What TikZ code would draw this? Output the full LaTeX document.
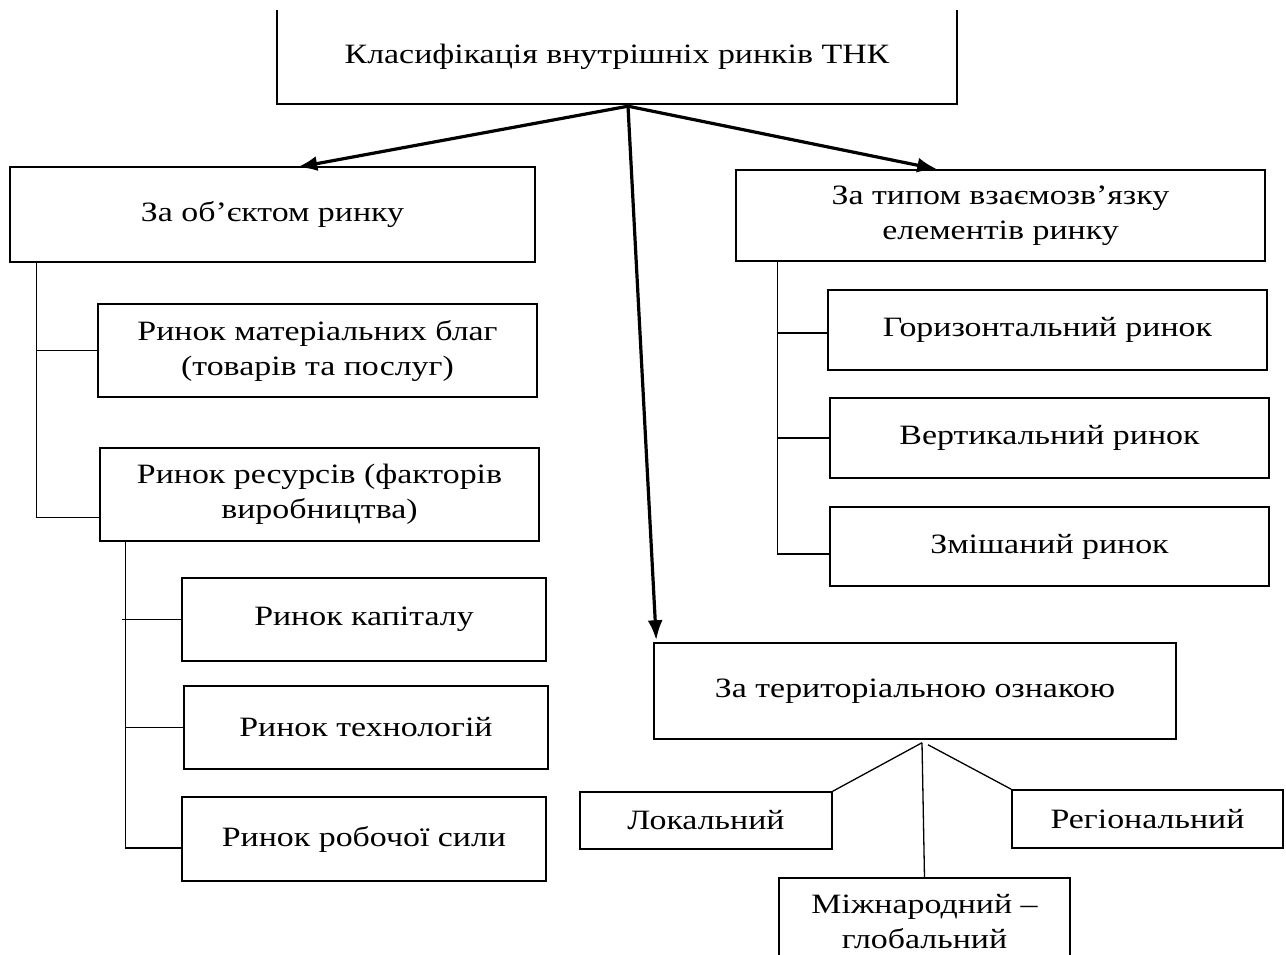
\documentclass[tikz,border=0pt]{standalone}
\usepackage{fontspec}
\setmainfont{Liberation Serif}[FakeStretch=1.21]
\usetikzlibrary{arrows.meta}
\newcommand{\boxnode}[6]{\node[box, minimum width={#4-#2}, minimum height={#5-#3}] (#1) at ({(#2+#4)/2},{(#3+#5)/2}) {#6};}
\newcommand{\opennode}[6]{\node[txt, minimum width={#4-#2}, minimum height={#5-#3}] (#1) at ({(#2+#4)/2},{(#3+#5)/2}) {#6};}
\begin{document}
\begin{tikzpicture}[x=1pt,y=-1pt,
  txt/.style={rectangle, inner sep=0pt, align=center, font=\fontsize{28}{35}\selectfont},
  box/.style={txt, draw, line width=1.5pt},
  edge/.style={line width=1.5pt},
  ln/.style={line width=1.3pt},
  arr/.style={line width=3.2pt, -{Latex[length=20pt,width=15pt]}}]
\useasboundingbox (0,0) rectangle (1286,955);
\fill[white] (0,0) rectangle (1286,955);
% top box (top edge outside picture)
\opennode{top}{277}{10}{957}{104}{Класифікація внутрішніх ринків ТНК}
\draw[edge] (top.north west) -- (top.south west) -- (top.south east) -- (top.north east);
% left branch
\boxnode{obj}{10}{167}{535}{262}{За об’єктом ринку}
\boxnode{mat}{98}{304}{537}{397}{Ринок матеріальних благ\\(товарів та послуг)}
\boxnode{res}{100}{448}{539}{541}{Ринок ресурсів (факторів\\виробництва)}
\boxnode{cap}{182}{578}{546}{661}{Ринок капіталу}
\boxnode{tech}{184}{686}{548}{769}{Ринок технологій}
\boxnode{lab}{182}{797}{546}{881}{Ринок робочої сили}
% right branch
\boxnode{typ}{736}{170}{1265}{261}{За типом взаємозв’язку\\елементів ринку}
\boxnode{hor}{828}{290}{1267}{370}{Горизонтальний ринок}
\boxnode{ver}{830}{398}{1269}{478}{Вертикальний ринок}
\boxnode{mix}{830}{507}{1269}{586}{Змішаний ринок}
% territorial branch
\boxnode{terr}{654}{643}{1176}{739}{За територіальною ознакою}
\boxnode{loc}{580}{792}{832}{849}{Локальний}
\boxnode{reg}{1012}{790}{1283}{848}{Регіональний}
\opennode{mizh}{779}{878}{1070}{966}{Міжнародний –\\глобальний}
\draw[edge] (mizh.south west) -- (mizh.north west) -- (mizh.north east) -- (mizh.south east);
% arrows from the title
\coordinate (o) at ([shift={(11,2)}]top.south);
\draw[arr] (o) -- ([shift={(288,1)}]obj.north west);
\draw[arr] (o) -- ([shift={(202,0)}]typ.north west);
\draw[arr] (o) -- ([shift={(3,-2)}]terr.north west);
% left brackets
\coordinate (b1) at ([shift={(27,0)}]obj.south west);
\draw[ln] (b1) |- (mat.west);
\draw[ln] (b1) |- ([shift={(0,23)}]res.west);
\coordinate (b2) at ([shift={(26,0)}]res.south west);
\draw[ln] (b2) |- ([shift={(0,9)}]lab.west);
\draw[ln] ([shift={(-3,0)}]b2 |- cap.west) -- (cap.west);
\draw[ln] (b2 |- tech.west) -- (tech.west);
% right bracket
\coordinate (b3) at ([shift={(42,0)}]typ.south west);
\draw[ln] (b3) |- ([shift={(0,7.5)}]mix.west);
\draw[ln] (b3 |- ver.west) -- (ver.west);
\draw[ln] ([shift={(0,3)}]hor.west) -- ++(-50,0);
% territorial lines
\coordinate (tb) at ([shift={(7,3)}]terr.south);
\draw[ln] (tb) -- (loc.north east);
\draw[ln] ([shift={(6,2)}]tb) -- (reg.north west);
\draw[ln] (tb) -- (mizh.north);
\end{tikzpicture}
\end{document}
